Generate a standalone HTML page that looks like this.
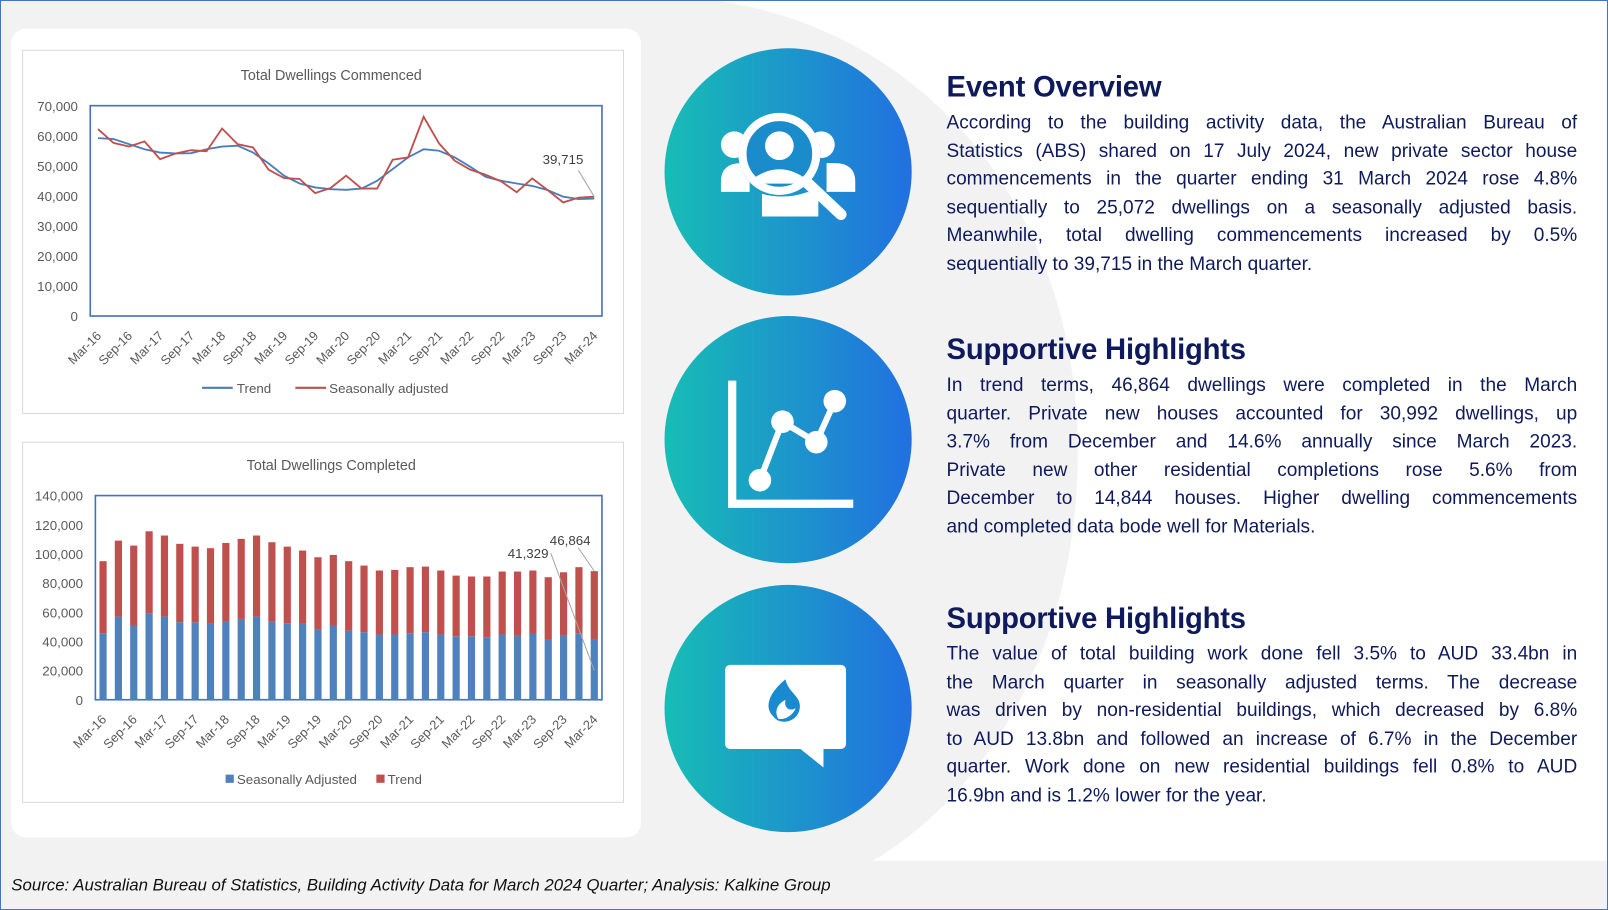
<!DOCTYPE html>
<html><head><meta charset="utf-8"><style>
body{margin:0;width:1608px;height:910px;background:#fff;font-family:"Liberation Sans",sans-serif;position:relative;overflow:hidden}
#wrap{position:absolute;left:0;top:0;width:1568px;height:887px;transform:scale(1.0255,1.026);transform-origin:0 0}
#frame{position:absolute;left:0;top:0;width:1566px;height:885px;border:1px solid #4472c4;overflow:hidden;background:#fff}
.txt{position:absolute;left:922px;width:615px;color:#0e1a5c}
.txt h2{margin:0 0 2px 0;font-size:28.5px;font-weight:bold;letter-spacing:-0.2px;line-height:32px}
.txt p{margin:4px 0 0 0;font-size:18.6px;line-height:27.5px}
.txt p span{display:block;text-align:justify;text-align-last:justify;white-space:nowrap}
.txt p span.l{text-align-last:left}
.circ{position:absolute;width:241px;height:241px;border-radius:50%;background:linear-gradient(90deg,#17bdb5,#2170e0);left:647px}
</style></head><body>
<div id="wrap">
<div id="frame">
<svg style="position:absolute;left:0;top:0" width="1566" height="885">
<path d="M0,0 L700,0 C900,30 1050,200 1050,440 C1050,640 950,780 850,838 L0,838 Z" fill="#f2f2f2"/>
<rect x="0" y="838" width="1566" height="47" fill="#f2f2f2"/>
<rect x="10" y="27" width="614" height="788" rx="14" fill="#fff"/>
</svg>

<div class="circ" style="top:46px">
<svg width="241" height="241" viewBox="0 0 241 241">
<circle cx="68" cy="94" r="13" fill="#fff"/><circle cx="153" cy="94" r="13" fill="#fff"/>
<path d="M55,130 q0,-18 20,-18 h8 v28 h-28z" fill="#fff"/><path d="M186,130 q0,-18 -20,-18 h-8 v28 h28z" fill="#fff"/>
<circle cx="112" cy="103" r="40" fill="#1a8ccb"/>
<circle cx="112" cy="103" r="36" fill="none" stroke="#fff" stroke-width="8"/>
<circle cx="112" cy="95" r="14" fill="#fff"/><path d="M88,126 q24,-16 48,0 v6 h-48z" fill="#fff"/>
<path d="M95,142 v22 h55 v-18 l-10,-6 q-22,8 -45,2z" fill="#fff"/>
<line x1="140" y1="132" x2="172" y2="162" stroke="#fff" stroke-width="11" stroke-linecap="round"/>
</svg></div>
<div class="circ" style="top:307px">
<svg width="241" height="241" viewBox="0 0 241 241">
<path d="M66,63 v120 h118" fill="none" stroke="#fff" stroke-width="8"/>
<polyline points="93,160 115,103 148,123 166,83" fill="none" stroke="#fff" stroke-width="6"/>
<circle cx="93" cy="160" r="11" fill="#fff"/><circle cx="115" cy="103" r="11" fill="#fff"/><circle cx="148" cy="123" r="11" fill="#fff"/><circle cx="166" cy="83" r="11" fill="#fff"/>
</svg></div>
<div class="circ" style="top:569px">
<svg width="241" height="241" viewBox="0 0 241 241">
<rect x="59" y="78" width="118" height="82" rx="5" fill="#fff"/><path d="M130,158 l25,20 v-20z" fill="#fff"/>
<path d="M118,92 c-22,18 -20,34 -6,40 c-6,-8 -2,-16 6,-20 c-2,8 4,12 10,8 c-4,10 -16,14 -22,8 c6,10 26,6 26,-10 c0,-10 -12,-14 -14,-26z" fill="#1a8ad0"/>
</svg></div>

<div class="txt" style="top:68px"><h2>Event Overview</h2>
<p><span>According to the building activity data, the Australian Bureau of</span><span>Statistics (ABS) shared on 17 July 2024, new private sector house</span><span>commencements in the quarter ending 31 March 2024 rose 4.8%</span><span>sequentially to 25,072 dwellings on a seasonally adjusted basis.</span><span>Meanwhile, total dwelling commencements increased by 0.5%</span><span class="l">sequentially to 39,715 in the March quarter.</span></p></div>
<div class="txt" style="top:324px"><h2>Supportive Highlights</h2>
<p><span>In trend terms, 46,864 dwellings were completed in the March</span><span>quarter. Private new houses accounted for 30,992 dwellings, up</span><span>3.7% from December and 14.6% annually since March 2023.</span><span>Private new other residential completions rose 5.6% from</span><span>December to 14,844 houses. Higher dwelling commencements</span><span class="l">and completed data bode well for Materials.</span></p></div>
<div class="txt" style="top:586px"><h2>Supportive Highlights</h2>
<p><span>The value of total building work done fell 3.5% to AUD 33.4bn in</span><span>the March quarter in seasonally adjusted terms. The decrease</span><span>was driven by non-residential buildings, which decreased by 6.8%</span><span>to AUD 13.8bn and followed an increase of 6.7% in the December</span><span>quarter. Work done on new residential buildings fell 0.8% to AUD</span><span class="l">16.9bn and is 1.2% lower for the year.</span></p></div>

<div style="position:absolute;left:10px;top:853px;font-size:16.4px;font-style:italic;color:#111">Source: Australian Bureau of Statistics, Building Activity Data for March 2024 Quarter; Analysis: Kalkine Group</div>

<svg id="c1" style="position:absolute;left:0;top:0" width="640" height="820"></svg>
</div>
</div>
<script>
const cats=["Mar-16","Jun-16","Sep-16","Dec-16","Mar-17","Jun-17","Sep-17","Dec-17","Mar-18","Jun-18","Sep-18","Dec-18","Mar-19","Jun-19","Sep-19","Dec-19","Mar-20","Jun-20","Sep-20","Dec-20","Mar-21","Jun-21","Sep-21","Dec-21","Mar-22","Jun-22","Sep-22","Dec-22","Mar-23","Jun-23","Sep-23","Dec-23","Mar-24"];
const commTrend=[59.2,58.9,57.2,55.5,54.4,54.1,54.2,55.5,56.4,56.7,54.4,50.8,46.7,44.1,42.8,42.2,42.0,42.4,45.0,48.9,52.8,55.5,55.0,52.8,49.7,46.3,45.0,44.1,43.3,41.9,39.7,38.9,39.1];
const commSA=[62.2,57.6,56.4,58.1,52.2,54.1,55.2,54.8,62.4,57.2,56.1,48.7,45.9,45.6,40.9,42.6,46.7,42.4,42.4,52.0,52.8,66.3,57.4,51.7,48.7,47.0,44.8,41.2,45.8,41.9,37.8,39.4,39.715];
const compSA=[45.6,57.0,50.9,58.9,57.0,53.1,53.1,52.0,53.6,55.4,57.0,53.6,52.5,52.0,47.9,50.6,47.4,46.3,44.7,44.7,45.6,46.3,44.7,43.5,43.5,42.9,44.7,44.0,45.1,41.0,44.0,45.6,41.329];
const compTrend=[49.4,52.1,54.8,56.6,55.6,53.8,51.9,51.9,53.9,54.9,55.6,54.4,52.5,50.3,49.8,48.7,47.6,45.7,43.9,44.3,45.3,45.0,43.9,41.6,41.0,41.6,43.2,43.9,43.5,43.0,43.4,45.3,46.864];
const ticks1=[0,10,20,30,40,50,60,70];
const ticks2=[0,20,40,60,80,100,120,140];
const NS="http://www.w3.org/2000/svg";
const svg=document.getElementById('c1');
function mk(t,a,p){const e=document.createElementNS(NS,t);for(const k in a)e.setAttribute(k,a[k]);(p||svg).appendChild(e);return e;}
function fmt(v){return v===0?"0":(v*1000).toLocaleString('en-US');}
function frame(x,y,w,h,title,ty){const b=mk('rect',{x:x,y:y,width:w,height:h,fill:'#fff',stroke:'#d9d9d9'});
const t=mk('text',{x:x+w/2+8,y:ty,'text-anchor':'middle','font-size':14,fill:'#595959'});t.textContent=title;}
function axes(L,R,T,B,max,ticks,lblY){
 const sx=i=>L+(i+0.5)*(R-L)/cats.length, sy=v=>B-v/max*(B-T);
 ticks.forEach(v=>{const t=mk('text',{x:L-12,y:sy(v)+5,'text-anchor':'end','font-size':13,fill:'#595959'});t.textContent=fmt(v);});
 cats.forEach((c,i)=>{if(i%2)return;const t=mk('text',{x:sx(i)+4,y:lblY,'text-anchor':'end','font-size':12.5,fill:'#595959',transform:`rotate(-45 ${sx(i)+4} ${lblY})`});t.textContent=c;});
 const pa=mk('rect',{x:L,y:T,width:R-L,height:B-T,fill:'none',stroke:'#4472c4','stroke-width':1.6});
 return {sx,sy};
}
frame(21,48,586,354,'Total Dwellings Commenced',77);
let a=axes(87,586,102,307,70,ticks1,327);
function line(d,col,name){const p=mk('polyline',{points:d.map((v,i)=>a.sx(i)+','+a.sy(v)).join(' '),fill:'none',stroke:col,'stroke-width':1.8});}
line(commTrend,'#4a7ebb','trend-line');line(commSA,'#c0504d','seasonally-adjusted-line');
{const n=commSA.length-1;mk('line',{x1:a.sx(n),y1:a.sy(commSA[n]),x2:563,y2:165,stroke:'#a6a6a6'});const t=mk('text',{x:548,y:159,'text-anchor':'middle','font-size':13,fill:'#404040'});t.textContent=(commSA[n]*1000).toLocaleString('en-US');}
{const g=mk('g',{});
mk('line',{x1:196,y1:377,x2:226,y2:377,stroke:'#4a7ebb','stroke-width':2},g);let t=mk('text',{x:230,y:382,'font-size':13,fill:'#595959'},g);t.textContent='Trend';
mk('line',{x1:287,y1:377,x2:317,y2:377,stroke:'#c0504d','stroke-width':2},g);t=mk('text',{x:320,y:382,'font-size':13,fill:'#595959'},g);t.textContent='Seasonally adjusted';}
frame(21,430,586,351,'Total Dwellings Completed',457);
a=axes(92,586,482,681,140,ticks2,701);
compSA.forEach((v,i)=>{const w=7,x=a.sx(i)-w/2;
 const b=mk('rect',{x:x,y:a.sy(v),width:w,height:a.sy(0)-a.sy(v),fill:'#4f81bd'});
 const r=mk('rect',{x:x,y:a.sy(v+compTrend[i]),width:w,height:a.sy(v)-a.sy(v+compTrend[i]),fill:'#c0504d'});});
{const n=cats.length-1;
mk('line',{x1:a.sx(n),y1:a.sy(20),x2:536,y2:538,stroke:'#a6a6a6'});mk('line',{x1:a.sx(n),y1:a.sy(compSA[n]+compTrend[n]),x2:563,y2:533,stroke:'#a6a6a6'});
let t=mk('text',{x:514,y:543,'text-anchor':'middle','font-size':13,fill:'#404040'});t.textContent=(compSA[n]*1000).toLocaleString('en-US');
t=mk('text',{x:555,y:530,'text-anchor':'middle','font-size':13,fill:'#404040'});t.textContent=(compTrend[n]*1000).toLocaleString('en-US');}
{const g=mk('g',{});
mk('rect',{x:219,y:754,width:8,height:8,fill:'#4f81bd'},g);let t=mk('text',{x:230,y:763,'font-size':13,fill:'#595959'},g);t.textContent='Seasonally Adjusted';
mk('rect',{x:366,y:754,width:8,height:8,fill:'#c0504d'},g);t=mk('text',{x:377,y:763,'font-size':13,fill:'#595959'},g);t.textContent='Trend';}
</script>
</body></html>
